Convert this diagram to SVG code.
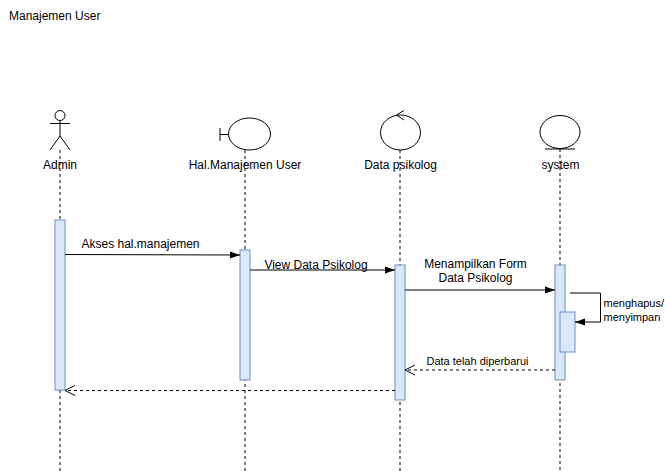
<svg xmlns="http://www.w3.org/2000/svg" width="665" height="471" viewBox="0 0 665 471">
<defs>
<style>
text{font-family:"Liberation Sans",Arial,sans-serif;fill:#000}
.t12{font-size:12px}
.t11{font-size:11px}
.shape{fill:#fff;stroke:#000;stroke-width:1}
.life{stroke:#000;stroke-width:1;stroke-dasharray:3 3;fill:none}
.act{fill:#dae8fc;stroke:#6c8ebf;stroke-width:1}
.msg{stroke:#000;stroke-width:1;fill:none}
.ret{stroke:#000;stroke-width:1;fill:none;stroke-dasharray:3 3}
</style>
<marker id="block" viewBox="0 0 10 10" refX="10" refY="5" markerWidth="10" markerHeight="10" markerUnits="userSpaceOnUse" orient="auto">
<path d="M0,1.5 L10,5 L0,8.5 Z" fill="#000"/>
</marker>
<marker id="open" viewBox="0 0 12 12" refX="11" refY="6" markerWidth="12" markerHeight="12" markerUnits="userSpaceOnUse" orient="auto">
<path d="M1,1 L11,6 L1,11" fill="none" stroke="#000" stroke-width="1"/>
</marker>
</defs>
<rect width="665" height="471" fill="#fff"/>
<text class="t12" x="9" y="19.5">Manajemen User</text>

<g id="lifelines">
<line class="life" x1="60" y1="150" x2="60" y2="471"/>
<line class="life" x1="245" y1="150" x2="245" y2="471"/>
<line class="life" x1="400" y1="150" x2="400" y2="471"/>
<line class="life" x1="560" y1="149" x2="560" y2="471"/>
</g>

<g id="admin">
<circle class="shape" cx="60" cy="115.5" r="5"/>
<line class="msg" x1="60" y1="120.5" x2="60" y2="136"/>
<line class="msg" x1="50" y1="123.5" x2="70" y2="123.5"/>
<line class="msg" x1="60" y1="136" x2="50" y2="150"/>
<line class="msg" x1="60" y1="136" x2="70" y2="150"/>
<text class="t12" x="60" y="169" text-anchor="middle">Admin</text>
<rect class="act" x="55" y="220" width="10" height="170"/>
</g>

<g id="halmanajemen">
<line class="msg" x1="220" y1="128" x2="220" y2="141"/>
<line class="msg" x1="220" y1="134.5" x2="228.5" y2="134.5"/>
<ellipse class="shape" cx="249.5" cy="134" rx="21" ry="16"/>
<text class="t12" x="245" y="169" text-anchor="middle">Hal.Manajemen User</text>
<rect class="act" x="240" y="250" width="10" height="130"/>
</g>

<g id="datapsikolog">
<ellipse class="shape" cx="400.5" cy="132.5" rx="20" ry="17.5"/>
<path class="msg" d="M404,110.5 L396.5,115 L404,120"/>
<text class="t12" x="400.5" y="169" text-anchor="middle">Data psikolog</text>
<rect class="act" x="395" y="265" width="10" height="135"/>
</g>

<g id="system">
<ellipse class="shape" cx="560" cy="132" rx="20" ry="16.5"/>
<line class="msg" x1="545" y1="149" x2="575" y2="149"/>
<text class="t12" x="560.5" y="169" text-anchor="middle">system</text>
<rect class="act" x="555" y="265" width="10" height="115"/>
<rect class="act" x="560" y="312" width="15" height="40"/>
</g>

<g id="connectors">
<line class="msg" x1="65" y1="254.5" x2="240" y2="255" marker-end="url(#block)"/>
<text class="t12" x="140.5" y="248" text-anchor="middle">Akses hal.manajemen</text>
<line class="msg" x1="250" y1="270" x2="395" y2="270" marker-end="url(#block)"/>
<text class="t12" x="316" y="268.5" text-anchor="middle">View Data Psikolog</text>
<line class="msg" x1="405" y1="290" x2="555" y2="290" marker-end="url(#block)"/>
<text class="t12" x="475.5" y="268" text-anchor="middle">Menampilkan Form</text>
<text class="t12" x="475.5" y="282" text-anchor="middle">Data Psikolog</text>
<path class="msg" d="M570,293 L600.5,293 L600.5,322 L575,322" marker-end="url(#block)"/>
<text class="t11" x="603.5" y="307">menghapus/</text>
<text class="t11" x="603.5" y="321">menyimpan</text>
<line class="ret" x1="555" y1="370" x2="405" y2="370" marker-end="url(#open)"/>
<text class="t11" x="477.5" y="365" text-anchor="middle">Data telah diperbarui</text>
<line class="ret" x1="395" y1="390.5" x2="65" y2="390.5" marker-end="url(#open)"/>
</g>
</svg>
